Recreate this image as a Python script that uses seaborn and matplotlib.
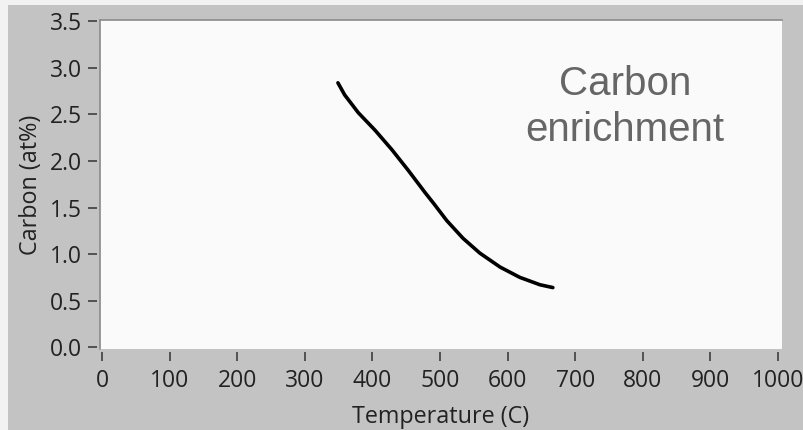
import matplotlib
matplotlib.use("Agg")
import matplotlib.pyplot as plt
from matplotlib.patches import Rectangle
import pandas as pd
import seaborn as sns

# Carbon content along the cooling path
temperature_c = [349, 359, 379, 404, 429, 453, 478, 490, 510, 534, 559, 589, 618, 648, 667]
carbon_at_pct = [2.84, 2.71, 2.52, 2.33, 2.12, 1.90, 1.66, 1.55, 1.36, 1.17, 1.01, 0.86, 0.75, 0.67, 0.64]

x_ticks = [0, 100, 200, 300, 400, 500, 600, 700, 800, 900, 1000]
y_ticks = [0.0, 0.5, 1.0, 1.5, 2.0, 2.5, 3.0, 3.5]
y_tick_labels = ["0.0", "0.5", "1.0", "1.5", "2.0", "2.5", "3.0", "3.5"]

df = pd.DataFrame({"Temperature (C)": temperature_c, "Carbon (at%)": carbon_at_pct})

sns.set_theme(style="white")
plt.rcParams["font.family"] = ["Open Sans", "DejaVu Sans"]

W, H = 804, 430
fig = plt.figure(figsize=(W / 100, H / 100), dpi=100)
fig.patch.set_facecolor("#f2f2f2")
# grey panel behind the graph
fig.patches.append(Rectangle((8 / W, 0), 1 - 8 / W, 1 - 5 / H, transform=fig.transFigure,
                             facecolor="#c3c3c3", edgecolor="none", zorder=-10))

ax = fig.add_axes([100 / W, 81 / H, 682 / W, 329 / H])
ax.set_facecolor("#fafafa")

sns.lineplot(data=df, x="Temperature (C)", y="Carbon (at%)", ax=ax,
             color="black", linewidth=2.6, sort=False)

ax.set_xlim(-3, 1006)
ax.set_ylim(-0.02, 3.515)
ax.set_xticks(x_ticks)
ax.set_xticklabels([str(v) for v in x_ticks])
ax.set_yticks(y_ticks)
ax.set_yticklabels(y_tick_labels)

for side in ("left", "bottom"):
    ax.spines[side].set_position(("outward", 2.2))
    ax.spines[side].set_visible(False)
ax.spines["right"].set_visible(False)
ax.spines["top"].set_color("#8a8a8a")
ax.spines["top"].set_linewidth(1.2)
# left frame edge of the plotting area
ax.plot([0, 0], [0, 1], transform=ax.transAxes, color="#8a8a8a", linewidth=1.2,
        clip_on=False, zorder=5)

ax.tick_params(axis="both", which="major", direction="out", length=6.5, width=1.1,
               color="#333333", labelsize=16.5, labelcolor="#222222",
               bottom=True, left=True)
ax.tick_params(axis="x", pad=5.5)
ax.tick_params(axis="y", pad=4.5)

ax.set_xlabel("Temperature (C)", fontsize=16.8, color="#222222", labelpad=9)
ax.set_ylabel("Carbon (at%)", fontsize=16.8, color="#222222", labelpad=5)

ax.text(774, 2.22, "Carbon\nenrichment", ha="center", va="baseline",
        fontsize=29, color="#666666", family=["Liberation Sans", "DejaVu Sans"],
        linespacing=1.25)

fig.savefig("out.png", dpi=100, facecolor=fig.get_facecolor())
